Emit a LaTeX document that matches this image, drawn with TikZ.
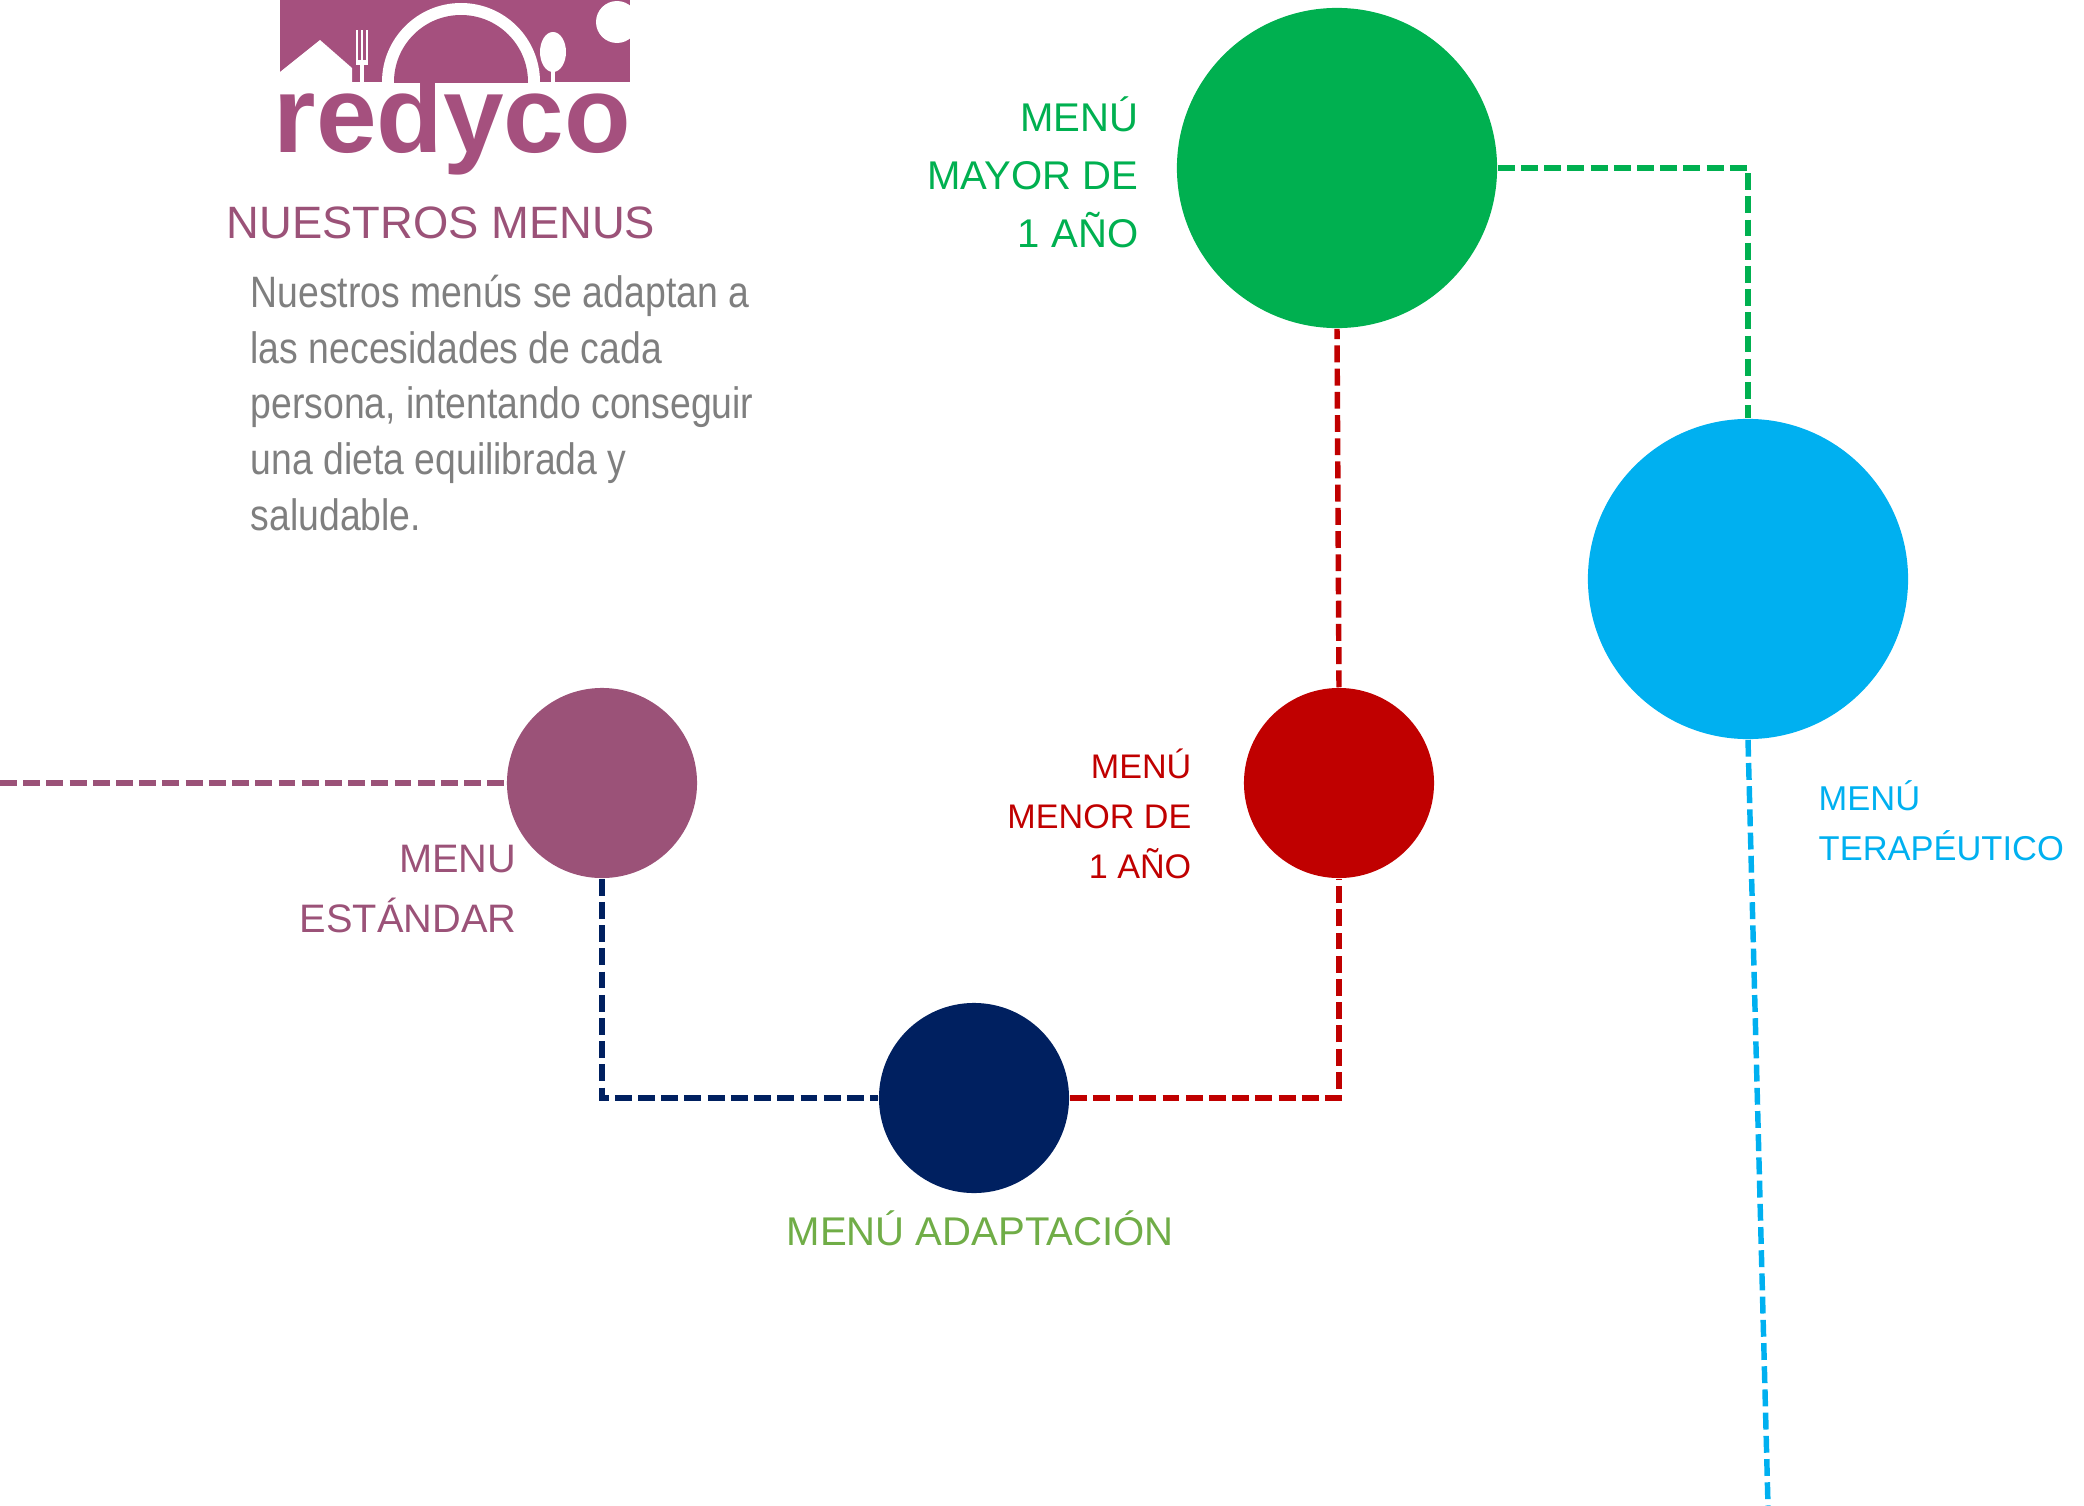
\documentclass[tikz,border=0pt]{standalone}
\usepackage{fontspec}
\setmainfont{Liberation Sans}
\newfontfamily\narrowfont{Liberation Sans}[FakeStretch=0.85]
\definecolor{verde}{HTML}{00B050}
\definecolor{celeste}{HTML}{00B0F0}
\definecolor{rojo}{HTML}{C00000}
\definecolor{marino}{HTML}{002060}
\definecolor{malva}{HTML}{9B5278}
\definecolor{logocol}{HTML}{A5507E}
\definecolor{oliva}{HTML}{70AD47}
\definecolor{gris}{HTML}{7F7F7F}
\tikzset{
  punto/.style={circle,inner sep=0pt,minimum size=#1},
  linea/.style={line width=1.55pt,dash pattern=on 4.8pt off 1.8pt},
  rotulo/.style={inner sep=0pt}
}
\begin{document}
\begin{tikzpicture}[x=0.01cm,y=-0.01cm]
\useasboundingbox (0,0) rectangle (2084,1506);
%logo
\begin{scope}
\clip (280,0) rectangle (630,82);
\fill[logocol] (280,0) rectangle (630,82);
\fill[white] (461,82) circle[radius=79];
\fill[logocol] (461,82) circle[radius=67];
\fill[white] (280,72) -- (320,40) -- (352,68) -- (352,82) -- (280,82) -- cycle;
\fill[white] (553,52) ellipse[x radius=13,y radius=20];
\fill[white] (551,68) rectangle (555,82);
\fill[white] (617,22) circle[radius=21];
\foreach \x in {357,362,367}
    \draw[white,line width=0.6pt] (\x,30) -- (\x,62);
\fill[white] (356,60) rectangle (368,65);
\fill[white] (360,62) rectangle (364,82);
\end{scope}
\node[rotulo,anchor=base west,text=logocol,font=\bfseries\fontsize{31pt}{31pt}\selectfont] (redyco) at (273,152) {redyco};
\node[rotulo,anchor=base west,text=malva,font=\fontsize{12.9pt}{15pt}\selectfont] (titulo) at (226,238) {NUESTROS MENUS};
\node[rotulo,anchor=base west,align=left,text=gris,font=\narrowfont\fontsize{12.5pt}{15.8pt}\selectfont] (texto) at (250,530)
  {Nuestros menús se adaptan a\\las necesidades de cada\\persona, intentando conseguir\\una dieta equilibrada y\\saludable.};
%add circles
\foreach \nombre/\punto/\color/\size in {mayor/{(1337,168)}/verde/3.2cm,
    terapeutico/{(1748,579)}/celeste/3.2cm,
    menor/{(1339,783)}/rojo/1.9cm,
    estandar/{(602,783)}/malva/1.9cm,
    adaptacion/{(974,1098)}/marino/1.9cm}{
    \node[punto=\size,fill=\color] (\nombre) at \punto {};
};
\coordinate (izq) at (0,783);
\coordinate (abajo) at (1768,1506);
%links
\draw[linea,malva] (izq) -- (estandar.west);
\draw[linea,marino] (estandar.south) |- (adaptacion.west);
\draw[linea,rojo] (adaptacion.east) -| (menor.south);
\draw[linea,rojo] (menor.north) -- (mayor.south);
\draw[linea,verde] (mayor.east) -| (terapeutico.north);
\draw[linea,celeste] (terapeutico.south) -- (abajo);
%labels
\node[rotulo,anchor=base east,align=right,text=verde,font=\fontsize{11.4pt}{16.4pt}\selectfont] (lmayor) at (1139,247) {MENÚ\\MAYOR DE\\1 AÑO};
\node[rotulo,anchor=base east,align=right,text=rojo,font=\fontsize{9.7pt}{14.2pt}\selectfont] (lmenor) at (1192,878) {MENÚ\\MENOR DE\\1 AÑO};
\node[rotulo,anchor=base west,align=left,text=celeste,font=\fontsize{9.8pt}{14.2pt}\selectfont] (lterapeutico) at (1818,860) {MENÚ\\TERAPÉUTICO};
\node[rotulo,anchor=base east,align=right,text=malva,font=\fontsize{11.3pt}{16.8pt}\selectfont] (lestandar) at (517,932) {MENU\\ESTÁNDAR};
\node[rotulo,anchor=base west,text=oliva,font=\fontsize{11.4pt}{14pt}\selectfont] (ladaptacion) at (786,1245) {MENÚ ADAPTACIÓN};
\end{tikzpicture}
\end{document}
